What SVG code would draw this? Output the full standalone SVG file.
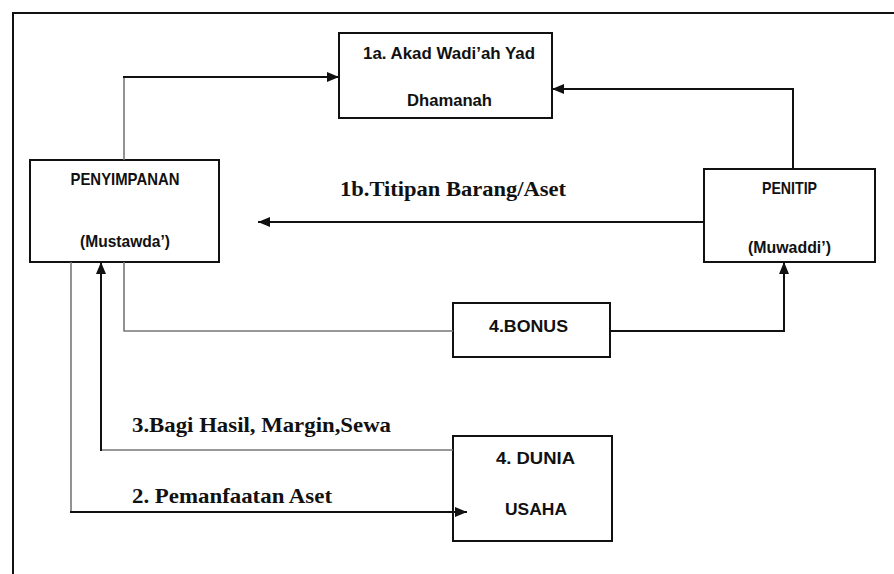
<svg xmlns="http://www.w3.org/2000/svg" width="894" height="574" viewBox="0 0 894 574">
<style>
.box{fill:#fff;stroke:#111;stroke-width:2}
.lbl{font-family:"Liberation Sans",Arial,sans-serif;font-weight:bold;font-size:17px;fill:#111;text-anchor:middle}
.big{font-family:"Liberation Serif","Times New Roman",serif;font-weight:bold;font-size:21px;fill:#111}
.c{fill:none;stroke:#111;stroke-width:2}
.g{fill:none;stroke:#777;stroke-width:1.6}
</style>
<defs>
<marker id="ah" markerUnits="userSpaceOnUse" markerWidth="14" markerHeight="12" viewBox="0 0 14 12" refX="12" refY="6" orient="auto">
<path d="M0,1 L12,6 L0,11 Z" fill="#111"/>
</marker>
</defs>
<rect width="894" height="574" fill="#fff"/>
<g id="frame">
<path d="M13,574 V13 H894" fill="none" stroke="#111" stroke-width="2"/>
</g>
<g id="akad">
<rect class="box" x="339" y="33" width="213" height="85"/>
<text class="lbl" x="449" y="59" textLength="172" lengthAdjust="spacingAndGlyphs">1a. Akad Wadi’ah Yad</text>
<text class="lbl" x="449.5" y="106" textLength="85" lengthAdjust="spacingAndGlyphs">Dhamanah</text>
</g>
<g id="penyimpanan">
<rect class="box" x="30" y="160" width="189" height="102"/>
<text class="lbl" x="125" y="185" textLength="109" lengthAdjust="spacingAndGlyphs">PENYIMPANAN</text>
<text class="lbl" x="125" y="247" textLength="90" lengthAdjust="spacingAndGlyphs">(Mustawda’)</text>
</g>
<g id="penitip">
<rect class="box" x="704" y="169" width="171" height="93"/>
<text class="lbl" x="789.5" y="194" textLength="55" lengthAdjust="spacingAndGlyphs">PENITIP</text>
<text class="lbl" x="789.5" y="253" textLength="83" lengthAdjust="spacingAndGlyphs">(Muwaddi’)</text>
</g>
<g id="bonus">
<rect class="box" x="453" y="303" width="157" height="54"/>
<text class="lbl" x="528.5" y="332" textLength="79" lengthAdjust="spacingAndGlyphs">4.BONUS</text>
</g>
<g id="dunia">
<rect class="box" x="453" y="436" width="159" height="105"/>
<text class="lbl" x="535.5" y="464" textLength="79" lengthAdjust="spacingAndGlyphs">4. DUNIA</text>
<text class="lbl" x="536" y="515" textLength="62" lengthAdjust="spacingAndGlyphs">USAHA</text>
</g>
<g id="connectors">
<path class="g" d="M124,160 V77"/>
<path class="c" d="M123,77 H339" marker-end="url(#ah)"/>
<path class="c" d="M793,169 V89 H552" marker-end="url(#ah)"/>
<path class="c" d="M704,222 H258" marker-end="url(#ah)"/>
<path class="g" d="M124,262 V331 H453"/>
<path class="c" d="M610,331 H784 V262" marker-end="url(#ah)"/>
<path class="g" d="M453,450 H101"/>
<path class="c" d="M101,451 V262" marker-end="url(#ah)"/>
<path class="g" d="M71,262 V512"/>
<path class="c" d="M70,512 H467" marker-end="url(#ah)"/>
</g>
<g id="labels">
<text class="big" x="340" y="196" textLength="226" lengthAdjust="spacingAndGlyphs">1b.Titipan Barang/Aset</text>
<text class="big" x="132" y="432" textLength="259" lengthAdjust="spacingAndGlyphs">3.Bagi Hasil, Margin,Sewa</text>
<text class="big" x="132" y="503" textLength="200" lengthAdjust="spacingAndGlyphs">2. Pemanfaatan Aset</text>
</g>
</svg>
